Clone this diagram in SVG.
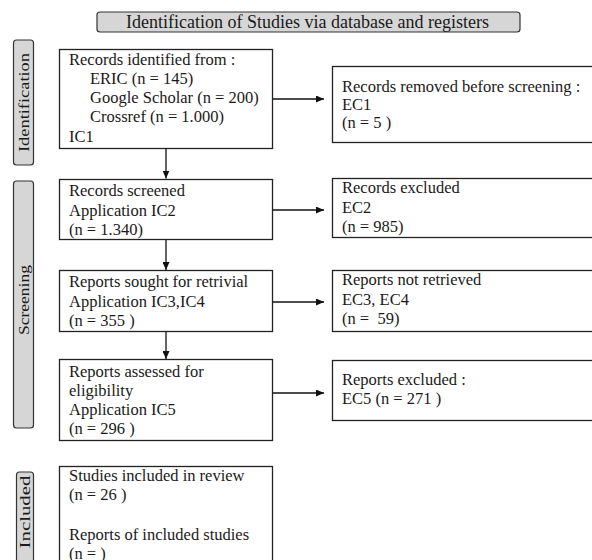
<svg xmlns="http://www.w3.org/2000/svg" width="592" height="560" viewBox="0 0 592 560">
<defs>
<marker id="ah" markerWidth="8" markerHeight="7" refX="8" refY="3.5" orient="auto" markerUnits="userSpaceOnUse">
<path d="M0,0 L8,3.5 L0,7 Z" fill="#111"/>
</marker>
<style>
text{font-family:"Liberation Serif","Times New Roman",serif;font-size:16.5px;fill:#1a1a1a}
.ttl{font-size:18px}
.side{font-size:15px}
.box{fill:#fff;stroke:#222;stroke-width:1.3}
.tab{fill:#d6d6d6;stroke:#333;stroke-width:1.2}
.conn{stroke:#111;stroke-width:1.3;fill:none;marker-end:url(#ah)}
</style>
</defs>
<rect width="592" height="560" fill="#fff"/>
<g id="title">
<rect class="tab" x="97" y="12" width="423" height="20" rx="3"/>
<text class="ttl" x="307.5" y="28" text-anchor="middle" textLength="363" lengthAdjust="spacingAndGlyphs">Identification of Studies via database and registers</text>
</g>
<g id="tab-identification">
<rect class="tab" x="13.5" y="40" width="20" height="125" rx="3"/>
<text class="side" transform="translate(28.5,102.5) rotate(-90)" text-anchor="middle" textLength="99" lengthAdjust="spacingAndGlyphs">Identification</text>
</g>
<g id="tab-screening">
<rect class="tab" x="13.5" y="181" width="20" height="247" rx="3"/>
<text class="side" transform="translate(28.5,300) rotate(-90)" text-anchor="middle" textLength="70" lengthAdjust="spacingAndGlyphs">Screening</text>
</g>
<g id="tab-included">
<rect class="tab" x="16.5" y="472" width="17" height="95" rx="3"/>
<text class="side" transform="translate(30,512) rotate(-90)" text-anchor="middle" textLength="73" lengthAdjust="spacingAndGlyphs">Included</text>
</g>
<g id="records-identified">
<rect class="box" x="59.5" y="49.5" width="213" height="99"/>
<text x="69" y="65">Records identified from :</text>
<text x="90" y="84">ERIC (n = 145)</text>
<text x="90" y="103">Google Scholar (n = 200)</text>
<text x="90" y="122">Crossref (n = 1.000)</text>
<text x="69" y="142">IC1</text>
</g>
<g id="records-removed">
<rect class="box" x="332.5" y="66.5" width="270" height="76"/>
<text x="342" y="92">Records removed before screening :</text>
<text x="342" y="110">EC1</text>
<text x="342" y="128">(n = 5 )</text>
</g>
<g id="records-screened">
<rect class="box" x="59.5" y="179.5" width="213" height="60"/>
<text x="69" y="196">Records screened</text>
<text x="69" y="216">Application IC2</text>
<text x="69" y="235">(n = 1.340)</text>
</g>
<g id="records-excluded">
<rect class="box" x="332.5" y="178.5" width="270" height="59"/>
<text x="342" y="193">Records excluded</text>
<text x="342" y="213">EC2</text>
<text x="342" y="232">(n = 985)</text>
</g>
<g id="reports-sought">
<rect class="box" x="59.5" y="270.5" width="213" height="61"/>
<text x="69" y="287">Reports sought for retrivial</text>
<text x="69" y="307">Application IC3,IC4</text>
<text x="69" y="326">(n = 355 )</text>
</g>
<g id="reports-not-retrieved">
<rect class="box" x="332.5" y="270.5" width="270" height="61"/>
<text x="342" y="285">Reports not retrieved</text>
<text x="342" y="305">EC3, EC4</text>
<text x="342" y="324" xml:space="preserve">(n =  59)</text>
</g>
<g id="reports-assessed">
<rect class="box" x="59.5" y="359.5" width="213" height="81"/>
<text x="69" y="377">Reports assessed for</text>
<text x="69" y="396">eligibility</text>
<text x="69" y="415">Application IC5</text>
<text x="69" y="434">(n = 296 )</text>
</g>
<g id="reports-excluded">
<rect class="box" x="332.5" y="360.5" width="270" height="60"/>
<text x="342" y="385">Reports excluded :</text>
<text x="342" y="404">EC5 (n = 271 )</text>
</g>
<g id="studies-included">
<rect class="box" x="59.5" y="466.5" width="213" height="110"/>
<text x="69" y="481">Studies included in review</text>
<text x="69" y="500">(n = 26 )</text>
<text x="69" y="540">Reports of included studies</text>
<text x="69" y="559">(n = )</text>
</g>
<g id="connectors">
<line class="conn" x1="166" y1="148.5" x2="166" y2="178.5"/>
<line class="conn" x1="166" y1="240" x2="166" y2="270"/>
<line class="conn" x1="166" y1="332" x2="166" y2="359"/>
<line class="conn" x1="273" y1="99" x2="324" y2="99"/>
<line class="conn" x1="273" y1="210" x2="324" y2="210"/>
<line class="conn" x1="273" y1="302" x2="324" y2="302"/>
<line class="conn" x1="273" y1="393" x2="324" y2="393"/>
</g>
</svg>
